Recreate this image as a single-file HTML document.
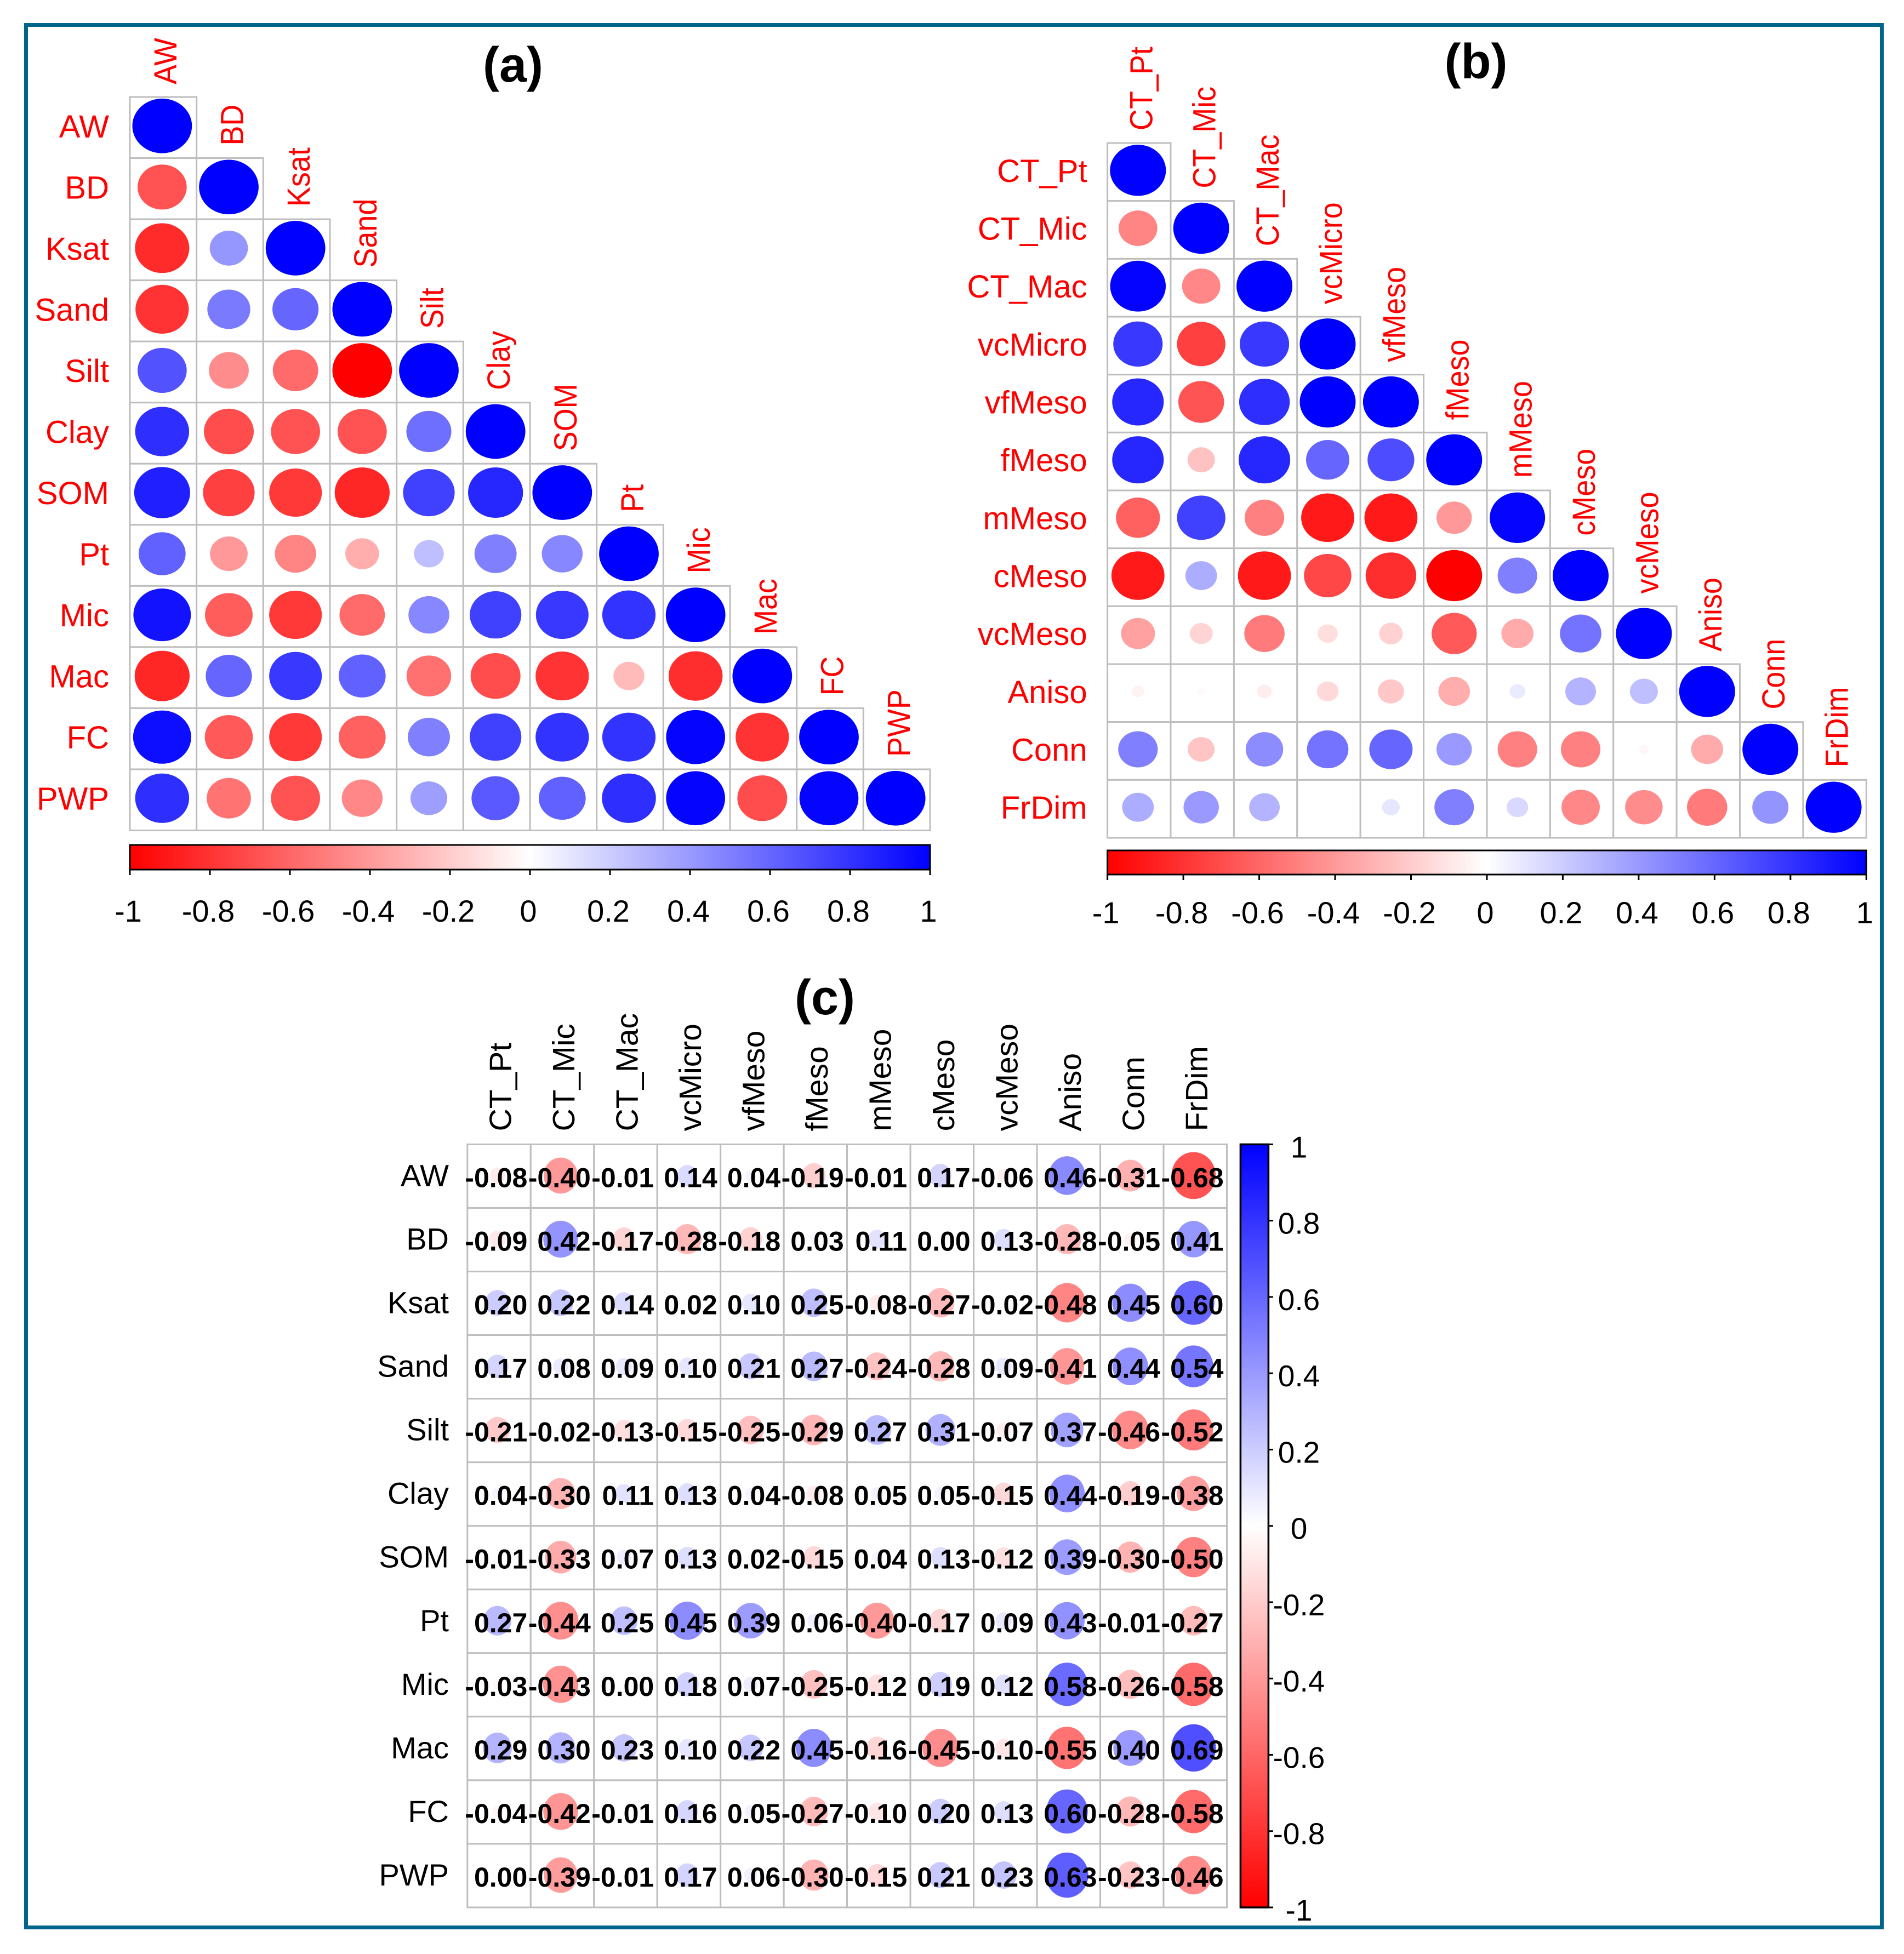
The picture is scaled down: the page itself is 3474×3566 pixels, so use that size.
<!DOCTYPE html>
<html lang="en">
<head>
<meta charset="utf-8">
<title>Correlation matrices</title>
<style>
html,body{margin:0;padding:0;background:#fff;}
svg{display:block;}
text{font-family:"Liberation Sans",Arial,sans-serif;}
</style>
</head>
<body>
<svg id="figure" xmlns="http://www.w3.org/2000/svg" width="3474" height="3566" viewBox="0 0 3474 3566">
  <defs>
    <linearGradient id="gradH" x1="0" y1="0" x2="1" y2="0">
      <stop offset="0" stop-color="#ff0000"/><stop offset="0.5" stop-color="#ffffff"/><stop offset="1" stop-color="#0000ff"/>
    </linearGradient>
    <linearGradient id="gradV" x1="0" y1="1" x2="0" y2="0">
      <stop offset="0" stop-color="#ff0000"/><stop offset="0.5" stop-color="#ffffff"/><stop offset="1" stop-color="#0000ff"/>
    </linearGradient>
  </defs>
  <rect x="0" y="0" width="3474" height="3566" fill="#ffffff"/>
  <rect x="47.5" y="45.5" width="3386" height="3472" fill="none" stroke="#00658a" stroke-width="7"/>
  <text x="936" y="149" font-size="90" font-weight="bold" text-anchor="middle" fill="#000">(a)</text>
  <text x="2693" y="143" font-size="90" font-weight="bold" text-anchor="middle" fill="#000">(b)</text>
  <text x="1505" y="1851" font-size="90" font-weight="bold" text-anchor="middle" fill="#000">(c)</text>
  <g id="panelA"></g>
  <g id="panelB"></g>
  <g id="panelC"></g>
</svg>
<script>
// ---------- chart data ----------
const colorbarTicks = [-1, -0.8, -0.6, -0.4, -0.2, 0, 0.2, 0.4, 0.6, 0.8, 1];

const aLabels = ["AW","BD","Ksat","Sand","Silt","Clay","SOM","Pt","Mic","Mac","FC","PWP"];
const aValues = [
  [1],
  [-0.68, 1],
  [-0.83, 0.41, 1],
  [-0.80, 0.52, 0.60, 1],
  [0.68, -0.45, -0.58, -1.00, 1],
  [0.82, -0.70, -0.68, -0.68, 0.57, 1],
  [0.88, -0.75, -0.78, -0.85, 0.75, 0.85, 1],
  [0.62, -0.40, -0.48, -0.32, 0.25, 0.50, 0.47, 1],
  [0.93, -0.64, -0.78, -0.58, 0.47, 0.75, 0.78, 0.80, 1],
  [-0.85, 0.60, 0.78, 0.62, -0.56, -0.70, -0.80, -0.27, -0.82, 1],
  [0.95, -0.65, -0.78, -0.62, 0.50, 0.75, 0.80, 0.80, 0.98, -0.80, 1],
  [0.82, -0.55, -0.68, -0.47, 0.38, 0.65, 0.62, 0.82, 0.98, -0.70, 0.98, 1]
];

const bLabels = ["CT_Pt","CT_Mic","CT_Mac","vcMicro","vfMeso","fMeso","mMeso","cMeso","vcMeso","Aniso","Conn","FrDim"];
const bValues = [
  [1],
  [-0.48, 1],
  [0.99, -0.47, 1],
  [0.78, -0.75, 0.78, 1],
  [0.85, -0.67, 0.82, 1.00, 1],
  [0.85, -0.24, 0.85, 0.60, 0.70, 1],
  [-0.62, 0.75, -0.50, -0.90, -0.90, -0.40, 0.98],
  [-0.90, 0.32, -0.90, -0.72, -0.82, -1.00, 0.50, 1],
  [-0.37, -0.17, -0.52, -0.13, -0.18, -0.65, -0.33, 0.55, 1],
  [-0.05, -0.02, -0.07, -0.15, -0.22, -0.32, 0.08, 0.30, 0.25, 1],
  [0.50, -0.23, 0.45, 0.55, 0.60, 0.40, -0.50, -0.50, -0.03, -0.33, 1],
  [0.32, 0.40, 0.30, 0.00, 0.10, 0.50, 0.15, -0.47, -0.45, -0.52, 0.42, 1]
];

const cRowLabels = ["AW","BD","Ksat","Sand","Silt","Clay","SOM","Pt","Mic","Mac","FC","PWP"];
const cColLabels = ["CT_Pt","CT_Mic","CT_Mac","vcMicro","vfMeso","fMeso","mMeso","cMeso","vcMeso","Aniso","Conn","FrDim"];
const cValues = [
  [-0.08,-0.40,-0.01,0.14,0.04,-0.19,-0.01,0.17,-0.06,0.46,-0.31,-0.68],
  [-0.09,0.42,-0.17,-0.28,-0.18,0.03,0.11,0.00,0.13,-0.28,-0.05,0.41],
  [0.20,0.22,0.14,0.02,0.10,0.25,-0.08,-0.27,-0.02,-0.48,0.45,0.60],
  [0.17,0.08,0.09,0.10,0.21,0.27,-0.24,-0.28,0.09,-0.41,0.44,0.54],
  [-0.21,-0.02,-0.13,-0.15,-0.25,-0.29,0.27,0.31,-0.07,0.37,-0.46,-0.52],
  [0.04,-0.30,0.11,0.13,0.04,-0.08,0.05,0.05,-0.15,0.44,-0.19,-0.38],
  [-0.01,-0.33,0.07,0.13,0.02,-0.15,0.04,0.13,-0.12,0.39,-0.30,-0.50],
  [0.27,-0.44,0.25,0.45,0.39,0.06,-0.40,-0.17,0.09,0.43,-0.01,-0.27],
  [-0.03,-0.43,0.00,0.18,0.07,-0.25,-0.12,0.19,0.12,0.58,-0.26,-0.58],
  [0.29,0.30,0.23,0.10,0.22,0.45,-0.16,-0.45,-0.10,-0.55,0.40,0.69],
  [-0.04,-0.42,-0.01,0.16,0.05,-0.27,-0.10,0.20,0.13,0.60,-0.28,-0.58],
  [0.00,-0.39,-0.01,0.17,0.06,-0.30,-0.15,0.21,0.23,0.63,-0.23,-0.46]
];

// ---------- helpers ----------
const SVGNS = "http://www.w3.org/2000/svg";
const GRID = "#bebebe";

function make(tag, parent, attrs, text) {
  const el = document.createElementNS(SVGNS, tag);
  for (const k in attrs) el.setAttribute(k, attrs[k]);
  if (text !== undefined) el.textContent = text;
  parent.appendChild(el);
  return el;
}
function colorOf(v) {
  const t = Math.min(1, Math.abs(v));
  const c = Math.round(255 * (1 - t));
  return v < 0 ? "rgb(255," + c + "," + c + ")" : "rgb(" + c + "," + c + ",255)";
}
function bandScale(start, end, n) {
  const step = (end - start) / n;
  return { step: step, edge: i => start + i * step, mid: i => start + (i + 0.5) * step };
}
function linearScale(d0, d1, r0, r1) {
  return v => r0 + (v - d0) / (d1 - d0) * (r1 - r0);
}
function slug(s) {
  return s.toLowerCase().replace(/[^a-z0-9]+/g, "-");
}

// ---------- triangular panels (a) and (b) ----------
function drawTriangle(root, prefix, labels, values, box) {
  const xs = bandScale(box.x0, box.x1, labels.length);
  const ys = bandScale(box.y0, box.y1, labels.length);
  values.forEach((row, i) => {
    row.forEach((v, j) => {
      const cell = make("rect", root, {x: xs.edge(j), y: ys.edge(i), width: xs.step, height: ys.step, fill: "#fff", stroke: GRID, "stroke-width": 3});
      
      
    });
  });
  values.forEach((row, i) => {
    row.forEach((v, j) => {
      const size = Math.sqrt(Math.abs(v));
      const dot = make("ellipse", root, {
        cx: xs.mid(j) - 2, cy: ys.mid(i) - 3,
        rx: box.rad * xs.step * size, ry: box.rad * ys.step * size,
        fill: colorOf(v)
      });
      
      
    });
  });
  labels.forEach((name, i) => {
    const rowLabel = make("text", root, {x: box.x0 - box.rowGap, y: ys.mid(i) + 18, "font-size": 58, "text-anchor": "end", fill: "#ff0000"}, name);
    
    
    const colLabel = make("text", root, {
      transform: "translate(" + (xs.mid(i) + 24) + "," + (ys.edge(i) - 23) + ") rotate(-90) scale(0.93,1)",
      "font-size": 58, fill: "#ff0000"
    }, name);
    
    
  });
  // horizontal colour bar
  const bar = make("rect", root, {x: box.x0, y: box.barTop, width: box.x1 - box.x0, height: box.barBottom - box.barTop, fill: "url(#gradH)", stroke: "#000", "stroke-width": 3});
  
  
  const barX = linearScale(-1, 1, box.x0, box.x1);
  colorbarTicks.forEach(t => {
    const x = barX(t);
    const tick = make("line", root, {x1: x, x2: x, y1: box.barBottom, y2: box.barBottom + 10, stroke: "#000", "stroke-width": 3});
    
    
    const tl = make("text", root, {x: x - 3, y: box.labelY, "font-size": 56, "text-anchor": "middle", fill: "#000"}, String(t));
    
    
  });
}

drawTriangle(document.getElementById("panelA"), "panel-a", aLabels, aValues,
  {x0: 237, x1: 1697, y0: 177, y1: 1515.5, rad: 0.447, rowGap: 38, barTop: 1542, barBottom: 1587, labelY: 1682});
drawTriangle(document.getElementById("panelB"), "panel-b", bLabels, bValues,
  {x0: 2020.6, x1: 3405.3, y0: 261, y1: 1529, rad: 0.442, rowGap: 37, barTop: 1552, barBottom: 1596, labelY: 1685});

// ---------- full matrix panel (c) ----------
(function () {
  const root = document.getElementById("panelC");
  const box = {x0: 852.8, x1: 2238.5, y0: 2088.4, y1: 3481};
  const xs = bandScale(box.x0, box.x1, cColLabels.length);
  const ys = bandScale(box.y0, box.y1, cRowLabels.length);
  const maxRx = 49;
  const maxRy = 52;
  cValues.forEach((row, i) => {
    row.forEach((v, j) => {
      const cell = make("rect", root, {x: xs.edge(j), y: ys.edge(i), width: xs.step, height: ys.step, fill: "#fff", stroke: GRID, "stroke-width": 3});
      
      
    });
  });
  cValues.forEach((row, i) => {
    row.forEach((v, j) => {
      const size = Math.sqrt(Math.abs(v));
      const dot = make("ellipse", root, {cx: xs.mid(j) - 3, cy: ys.mid(i) - 1, rx: maxRx * size, ry: maxRy * size, fill: colorOf(v)});
      
      
    });
  });
  cValues.forEach((row, i) => {
    row.forEach((v, j) => {
      const num = make("text", root, {x: xs.edge(j + 1) - 6, y: ys.mid(i) + 20, "font-size": 50, "font-weight": "bold", "text-anchor": "end", fill: "#000"}, v.toFixed(2));
      
      
    });
  });
  cRowLabels.forEach((name, i) => {
    const rowLabel = make("text", root, {x: 819, y: ys.mid(i) + 18, "font-size": 56, "text-anchor": "end", fill: "#000"}, name);
    
    
  });
  cColLabels.forEach((name, j) => {
    const colLabel = make("text", root, {
      transform: "translate(" + (xs.mid(j) + 22) + "," + (box.y0 - 24) + ") rotate(-90)",
      "font-size": 57, fill: "#000"
    }, name);
    
    
  });
  const bar = make("rect", root, {x: 2263.4, y: box.y0, width: 51, height: box.y1 - box.y0, fill: "url(#gradV)", stroke: "#000", "stroke-width": 3.5});
  
  
  const barY = linearScale(-1, 1, box.y1, box.y0);
  colorbarTicks.forEach(t => {
    const y = barY(t);
    const tick = make("line", root, {x1: 2314.4, x2: 2323, y1: y, y2: y, stroke: "#000", "stroke-width": 3});
    
    
    const tl = make("text", root, {x: 2370, y: y + 24, "font-size": 55, "text-anchor": "middle", fill: "#000"}, String(t));
    
    
  });
})();
</script>
</body>
</html>
